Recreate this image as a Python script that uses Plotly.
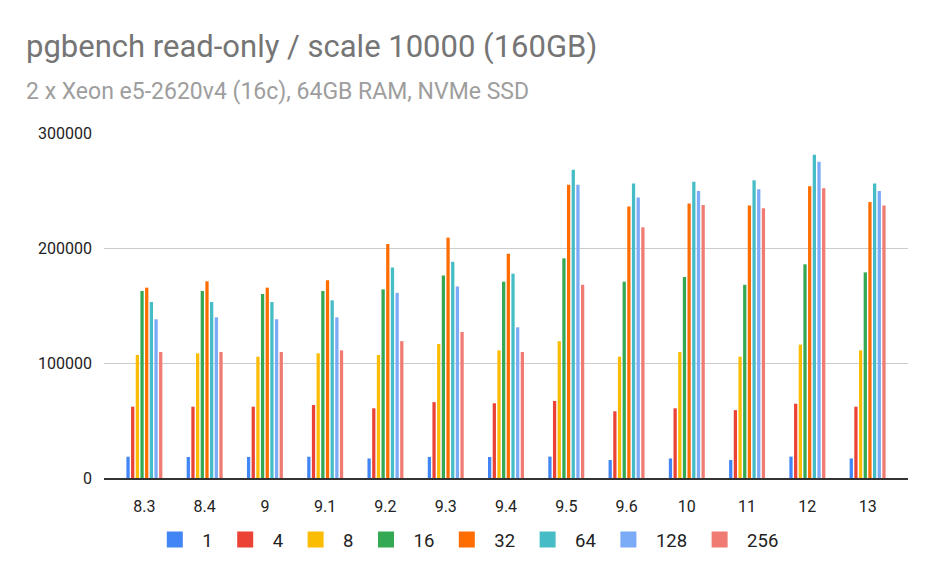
import plotly.graph_objects as go

versions = ["8.3", "8.4", "9", "9.1", "9.2", "9.3", "9.4", "9.5", "9.6", "10", "11", "12", "13"]
clients = ["1", "4", "8", "16", "32", "64", "128", "256"]

tps_1 = [18500, 18300, 18300, 18500, 17000, 18300, 18300, 18600, 15700, 17000, 15700, 18600, 17000]
tps_4 = [62000, 62000, 62000, 63500, 60600, 66000, 65000, 67000, 58000, 60600, 59000, 64600, 62000]
tps_8 = [107000, 108400, 105500, 108400, 107000, 116500, 111000, 119000, 105500, 109600, 105500, 116000, 111000]
tps_16 = [162600, 162600, 160000, 162600, 164000, 176000, 170700, 191000, 170700, 174800, 168000, 185800, 178800]
tps_32 = [165500, 171000, 165500, 172000, 203500, 209000, 195000, 255000, 236000, 238600, 237000, 253600, 240000]
tps_64 = [153000, 153000, 153000, 154500, 183000, 188000, 177700, 268000, 256000, 257700, 259000, 281000, 256000]
tps_128 = [138000, 139700, 138000, 139700, 161000, 166600, 131000, 255000, 244000, 249600, 251000, 275000, 249600]
tps_256 = [109600, 109600, 109600, 111000, 119000, 127000, 109600, 168000, 218000, 237400, 234500, 252000, 237000]

series = [tps_1, tps_4, tps_8, tps_16, tps_32, tps_64, tps_128, tps_256]
colors = ["#4285F4", "#EA4335", "#FBBC04", "#34A853", "#FF6D01", "#46BDC6", "#7BAAF7", "#F07B72"]

fig = go.Figure()
for name, vals, col in zip(clients, series, colors):
    fig.add_trace(go.Bar(name=name, x=versions, y=vals, showlegend=False,
                         marker=dict(color=col, line=dict(width=0))))
# legend entries with larger square swatches
for name, col in zip(clients, colors):
    fig.add_trace(go.Scatter(name=name, x=[None], y=[None], mode="markers",
                             marker=dict(symbol="square", size=16, color=col, line=dict(width=0)),
                             hoverinfo="skip"))

# page body has an 8px margin; plot area on screen: x 104..908, y 133..478
L, T, R, B = 96, 125, 37, 109
PW, PH = 937 - L - R, 579 - T - B

fig.update_layout(
    width=937, height=579,
    paper_bgcolor="white", plot_bgcolor="white",
    barmode="group", bargap=0.38, bargroupgap=0.30,
    margin=dict(l=L, r=R, t=T, b=B, autoexpand=False),
    font=dict(family="Roboto, Arial, sans-serif", size=16, color="#222222"),
    showlegend=True,
    legend=dict(orientation="h", x=0.45, xanchor="center", xref="paper",
                y=-(532 - (T + PH)) / PH, yanchor="middle", font=dict(size=18.5, color="#222222"),
                itemwidth=45, itemsizing="trace", tracegroupgap=0),
    xaxis=dict(type="category", range=[-0.67, 12.67], showgrid=False,
               showline=True, linecolor="#333333", linewidth=1.5,
               ticks="", tickfont=dict(size=16, color="#222222"), ticklabelstandoff=13),
    yaxis=dict(range=[0, 300000], tickvals=[0, 100000, 200000, 300000],
               ticktext=["0", "100000", "200000", "300000"],
               showgrid=True, gridcolor="#cccccc", gridwidth=1,
               zeroline=False, showline=False, ticks="",
               tickfont=dict(size=16, color="#222222"), ticklabelstandoff=11),
)

fig.add_annotation(text="pgbench read-only / scale 10000 (160GB)", xref="paper", yref="paper",
                   x=(16 - L) / PW, y=1 + (T - 39) / PH,
                   xanchor="left", yanchor="middle", showarrow=False,
                   font=dict(size=31, color="#757575"))
fig.add_annotation(text="2 x Xeon e5-2620v4 (16c), 64GB RAM, NVMe SSD", xref="paper", yref="paper",
                   x=(16 - L) / PW, y=1 + (T - 83) / PH,
                   xanchor="left", yanchor="middle", showarrow=False,
                   font=dict(size=23, color="#9e9e9e"))

fig.write_html("out.html")
